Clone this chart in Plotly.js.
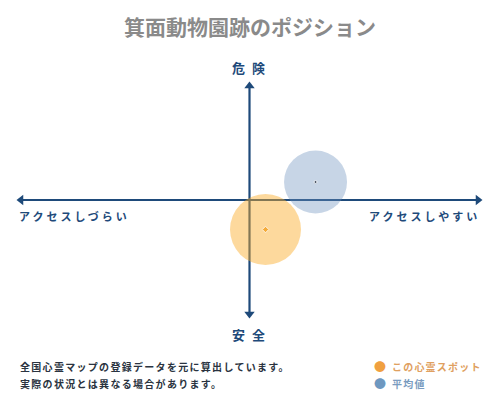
<!DOCTYPE html>
<html>
<head>
<meta charset="utf-8">
<script src="https://cdn.plot.ly/plotly-3.0.1.min.js"></script>
<style>
  html, body { margin: 0; padding: 0; background: #fff; }
  #chart { width: 500px; height: 400px; }
</style>
</head>
<body>
<div id="chart"></div>
<script>
    'use strict';

    // Position on the map: x = ease of access (-1 hard .. 1 easy), y = danger (-1 safe .. 1 dangerous)
    const seriesNames = ['この心霊スポット', '平均値'];
    const accessValues = [0.07, 0.289];
    const dangerValues = [-0.259, 0.158];

    const titleText = '箕面動物園跡のポジション';
    const axisLabels = {top: '危 険', bottom: '安 全', left: 'アクセスしづらい', right: 'アクセスしやすい'};
    const noteLines = ['全国心霊マップの登録データを元に算出しています。', '実際の状況とは異なる場合があります。'];

    const FONT = '"Noto Sans CJK JP", "Noto Sans", sans-serif';
    const AXIS_COLOR = '#1e4a7a';

    function spaced(text, px) {
        return '<span style="letter-spacing:' + px + 'px">' + text + '</span>';
    }

    const axisLines = [
        {x: [-1, 1], y: [0, 0]},
        {x: [0, 0], y: [-1, 1]}
    ].map(function (d) {
        return {
            type: 'scatter', mode: 'lines', x: d.x, y: d.y,
            line: {color: AXIS_COLOR, width: 2.2},
            hoverinfo: 'skip', showlegend: false, cliponaxis: false
        };
    });

    const arrowHeads = {
        type: 'scatter', mode: 'markers',
        x: [-1, 1, 0, 0], y: [0, 0, 1, -1],
        marker: {
            symbol: ['triangle-left', 'triangle-right', 'triangle-up', 'triangle-down'],
            size: 9, color: AXIS_COLOR
        },
        hoverinfo: 'skip', showlegend: false, cliponaxis: false
    };

    // average drawn first, this spot on top
    const bubbles = {
        type: 'scatter', mode: 'markers',
        x: [accessValues[1], accessValues[0]],
        y: [dangerValues[1], dangerValues[0]],
        text: [seriesNames[1], seriesNames[0]],
        marker: {
            size: [63, 71],
            color: ['rgba(110,146,190,0.55)', 'rgba(250,172,40,0.65)'],
            line: {width: 0}
        },
        hoverinfo: 'text', showlegend: false, cliponaxis: false
    };

    const centers = {
        type: 'scatter', mode: 'markers',
        x: [accessValues[1], accessValues[0]],
        y: [dangerValues[1], dangerValues[0]],
        marker: {
            symbol: ['circle', 'diamond'],
            size: [3, 5],
            color: ['#1a2230', '#f29a12']
        },
        hoverinfo: 'skip', showlegend: false, cliponaxis: false
    };

    const labelFont = {family: FONT, size: 13, color: AXIS_COLOR, weight: 'bold'};
    const sideFont = {family: FONT, size: 11, color: AXIS_COLOR, weight: 'bold'};
    const noteFont = {family: FONT, size: 10, color: '#2a3340', weight: 'bold'};

    function note(text, font, dx, dy, anchor) {
        return {
            xref: 'paper', yref: 'paper', x: 0, y: 0, xshift: dx, yshift: dy,
            xanchor: anchor || 'left', yanchor: 'middle', showarrow: false,
            text: text, font: font
        };
    }

    const annotations = [
        {xref: 'paper', yref: 'paper', x: 0.5, y: 1, yshift: 19, xanchor: 'center', yanchor: 'middle',
            showarrow: false, text: spaced(axisLabels.top, 2), font: labelFont},
        {xref: 'paper', yref: 'paper', x: 0.5, y: 0, yshift: -20, xanchor: 'center', yanchor: 'middle',
            showarrow: false, text: spaced(axisLabels.bottom, 2), font: labelFont},
        {xref: 'paper', yref: 'paper', x: 0, y: 0.5, xshift: -4, yshift: -16, xanchor: 'left', yanchor: 'middle',
            showarrow: false, text: spaced(axisLabels.left, 3), font: sideFont},
        {xref: 'paper', yref: 'paper', x: 1, y: 0.5, xshift: 4, yshift: -16, xanchor: 'right', yanchor: 'middle',
            showarrow: false, text: spaced(axisLabels.right, 3), font: sideFont},
        note(spaced(noteLines[0], 1.3), noteFont, -3, -52),
        note(spaced(noteLines[1], 1.3), noteFont, -3, -69),
        note('●', {family: FONT, size: 12, color: '#f0a040'}, 359, -52, 'center'),
        note(spaced(seriesNames[0], 1.2), {family: FONT, size: 10, color: '#e0a060', weight: 'bold'}, 369, -52),
        note('●', {family: FONT, size: 12, color: '#6e98c0'}, 359, -69, 'center'),
        note(spaced(seriesNames[1], 1.2), {family: FONT, size: 10, color: '#7a9cc0', weight: 'bold'}, 369, -69)
    ];

    const hiddenAxis = {
        range: [-1, 1], visible: false, fixedrange: true, zeroline: false, showgrid: false
    };

    const layout = {
        width: 500, height: 400,
        margin: {l: 21, r: 22, t: 86, b: 86, pad: 0},
        paper_bgcolor: '#fff', plot_bgcolor: '#fff',
        title: {
            text: titleText, x: 0.5, xanchor: 'center', y: 0.93, yanchor: 'middle',
            font: {family: FONT, size: 21, color: '#8a8a8a', weight: 'bold'}
        },
        xaxis: hiddenAxis,
        yaxis: Object.assign({}, hiddenAxis),
        annotations: annotations,
        showlegend: false
    };

    Plotly.newPlot('chart', axisLines.concat([arrowHeads, bubbles, centers]), layout,
        {displayModeBar: false, staticPlot: true});
</script>
</body>
</html>
